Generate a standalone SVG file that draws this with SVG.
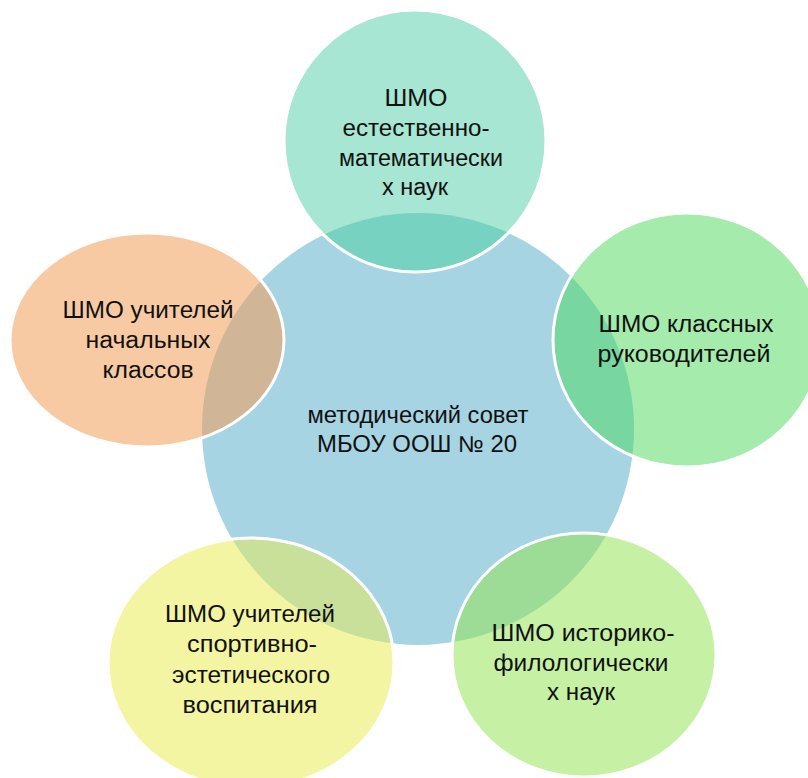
<svg xmlns="http://www.w3.org/2000/svg" width="808" height="778" viewBox="0 0 808 778">
<style>
text{font-family:"Liberation Sans",Arial,sans-serif;font-size:23px;fill:#111;text-anchor:middle}
.ring{fill:none;stroke:#fff;stroke-width:3}
</style>
<defs>
<clipPath id="core"><circle cx="418" cy="429" r="216"/></clipPath>
</defs>
<rect width="808" height="778" fill="#fff"/>
<g id="connectors"></g>
<g id="center">
<circle cx="418" cy="429" r="216" fill="#a7d4e2"/>
</g>
<g id="node-top">
<circle cx="415" cy="141" r="131" fill="#a6e6d2"/>
<circle cx="415" cy="141" r="131" fill="#77d2c1" clip-path="url(#core)"/>
<circle class="ring" cx="415" cy="141" r="131"/>
<text x="416" y="106" textLength="63" lengthAdjust="spacingAndGlyphs">ШМО</text>
<text x="416" y="136" textLength="147" lengthAdjust="spacingAndGlyphs">естественно-</text>
<text x="421" y="166" textLength="164" lengthAdjust="spacingAndGlyphs">математически</text>
<text x="415" y="195" textLength="66" lengthAdjust="spacingAndGlyphs">х наук</text>
</g>
<g id="node-right">
<ellipse cx="687" cy="340" rx="134" ry="127" fill="#a5ebac"/>
<ellipse cx="687" cy="340" rx="134" ry="127" fill="#78d6a0" clip-path="url(#core)"/>
<ellipse class="ring" cx="687" cy="340" rx="134" ry="127"/>
<text x="686" y="332" textLength="175" lengthAdjust="spacingAndGlyphs">ШМО классных</text>
<text x="684" y="362" textLength="173" lengthAdjust="spacingAndGlyphs">руководителей</text>
</g>
<g id="node-left">
<ellipse cx="147" cy="340" rx="137" ry="107" fill="#f8caa3"/>
<ellipse cx="147" cy="340" rx="137" ry="107" fill="#d0b596" clip-path="url(#core)"/>
<ellipse class="ring" cx="147" cy="340" rx="137" ry="107"/>
<text x="148" y="318" textLength="171" lengthAdjust="spacingAndGlyphs">ШМО учителей</text>
<text x="148" y="348" textLength="125" lengthAdjust="spacingAndGlyphs">начальных</text>
<text x="148" y="378" textLength="91" lengthAdjust="spacingAndGlyphs">классов</text>
</g>
<g id="node-bottom-left">
<ellipse cx="251" cy="663" rx="143" ry="125" fill="#f3f5a3"/>
<ellipse cx="251" cy="663" rx="143" ry="125" fill="#c9e09b" clip-path="url(#core)"/>
<ellipse class="ring" cx="251" cy="663" rx="143" ry="125"/>
<text x="250" y="622" textLength="170" lengthAdjust="spacingAndGlyphs">ШМО учителей</text>
<text x="252" y="652" textLength="130" lengthAdjust="spacingAndGlyphs">спортивно-</text>
<text x="251" y="683" textLength="158" lengthAdjust="spacingAndGlyphs">эстетического</text>
<text x="250" y="713" textLength="135" lengthAdjust="spacingAndGlyphs">воспитания</text>
</g>
<g id="node-bottom-right">
<ellipse cx="584" cy="655" rx="132" ry="122" fill="#c6f0a4"/>
<ellipse cx="584" cy="655" rx="132" ry="122" fill="#9cdc97" clip-path="url(#core)"/>
<ellipse class="ring" cx="584" cy="655" rx="132" ry="122"/>
<text x="583" y="641" textLength="183" lengthAdjust="spacingAndGlyphs">ШМО историко-</text>
<text x="581" y="671" textLength="175" lengthAdjust="spacingAndGlyphs">филологически</text>
<text x="581" y="700" textLength="68" lengthAdjust="spacingAndGlyphs">х наук</text>
</g>
<g id="center-label">
<text x="418" y="423" textLength="221" lengthAdjust="spacingAndGlyphs">методический совет</text>
<text x="417" y="452" textLength="200" lengthAdjust="spacingAndGlyphs">МБОУ ООШ № 20</text>
</g>
</svg>
